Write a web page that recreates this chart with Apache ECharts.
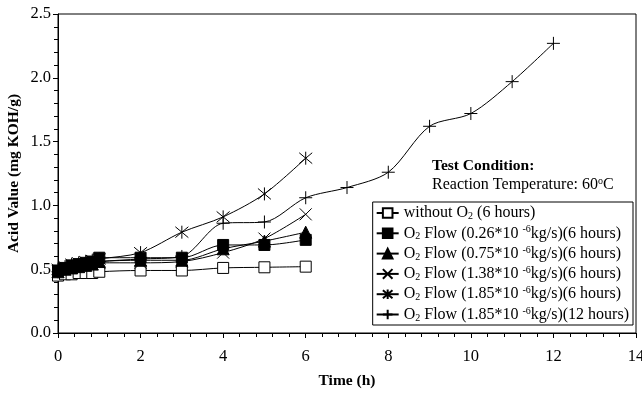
<!DOCTYPE html>
<html>
<head>
<meta charset="utf-8">
<script src="https://cdn.jsdelivr.net/npm/echarts@6/dist/echarts.min.js"></script>
<style>
  html, body { margin: 0; padding: 0; background: #fff; }
  #chart { width: 642px; height: 393px; }
</style>
</head>
<body>
<div id="chart"></div>
<script>
// Sampling times (h)
const timesShort = [0, 0.17, 0.33, 0.5, 0.67, 0.83, 1, 2, 3, 4, 5, 6];
const timesLong = [0, 0.17, 0.33, 0.5, 0.67, 0.83, 1, 2, 3, 4, 5, 6, 7, 8, 9, 10, 11, 12];

// Acid value (mg KOH/g) per run
const noOxygen6h = [0.45, 0.46, 0.46, 0.47, 0.47, 0.47, 0.48, 0.49, 0.49, 0.51, 0.515, 0.52];
const flow026_6h = [0.49, 0.51, 0.53, 0.54, 0.55, 0.56, 0.59, 0.59, 0.59, 0.69, 0.69, 0.73];
const flow075_6h = [0.48, 0.50, 0.51, 0.52, 0.53, 0.54, 0.56, 0.57, 0.57, 0.66, 0.72, 0.79];
const flow138_6h = [0.48, 0.50, 0.51, 0.52, 0.53, 0.54, 0.55, 0.55, 0.56, 0.63, 0.74, 0.93];
const flow185_6h = [0.50, 0.52, 0.54, 0.55, 0.56, 0.57, 0.58, 0.63, 0.79, 0.91, 1.09, 1.37];
const flow185_12h = [0.48, 0.50, 0.52, 0.53, 0.54, 0.55, 0.56, 0.58, 0.60, 0.86, 0.87, 1.06, 1.14, 1.26, 1.62, 1.72, 1.97, 2.27];

// Axis ticks
const xTicks = [0, 2, 4, 6, 8, 10, 12, 14];
const yTicks = [0.0, 0.5, 1.0, 1.5, 2.0, 2.5];

const seriesNames = [
  'without O{sub|2} (6 hours)',
  'O{sub|2} Flow (0.26*10 {sup|-6}kg/s)(6 hours)',
  'O{sub|2} Flow (0.75*10 {sup|-6}kg/s)(6 hours)',
  'O{sub|2} Flow (1.38*10 {sup|-6}kg/s)(6 hours)',
  'O{sub|2} Flow (1.85*10 {sup|-6}kg/s)(6 hours)',
  'O{sub|2} Flow (1.85*10 {sup|-6}kg/s)(12 hours)'
];

const FONT = '"Liberation Serif", "DejaVu Serif", serif';

const crossPath = 'path://M0,0L10,10M10,0L0,10';
const starPath = 'path://M0,0L10,10M10,0L0,10M5,-1L5,11';
const plusPath = 'path://M5,0L5,10M0,5L10,5';

function pairs(xs, ys) { return ys.map((v, i) => [xs[i], v]); }

function makeSeries(name, xs, ys, symbol, size, fill) {
  return {
    name: name,
    type: 'line',
    smooth: 0.3,
    data: pairs(xs, ys),
    symbol: symbol,
    symbolSize: size,
    showAllSymbol: true,
    lineStyle: { color: '#000', width: 1 },
    itemStyle: { color: fill, borderColor: '#000', borderWidth: 1 },
    emphasis: { disabled: true },
    z: 3
  };
}

const chart = echarts.init(document.getElementById('chart'), null, { renderer: 'canvas' });

const sub = { fontSize: 10, fontFamily: FONT, color: '#000', padding: [7, 0, 0, 0] };
const sup = { fontSize: 10, fontFamily: FONT, color: '#000', padding: [0, 0, 7, 0] };

chart.setOption({
  animation: false,
  backgroundColor: '#fff',
  grid: {
    left: 58, right: 6, top: 14, bottom: 60,
    outerBoundsMode: 'none', containLabel: false,
    show: true, borderColor: '#000', borderWidth: 1, backgroundColor: 'transparent'
  },
  xAxis: {
    type: 'value',
    min: xTicks[0], max: xTicks[xTicks.length - 1], interval: 2,
    name: 'Time (h)', nameLocation: 'middle', nameGap: 40,
    nameTextStyle: { fontFamily: FONT, fontSize: 15.5, fontWeight: 'bold', color: '#000' },
    axisLine: { lineStyle: { color: '#000', width: 1 } },
    axisTick: { show: true, inside: false, length: 5, lineStyle: { color: '#000' } },
    minorTick: { show: true, splitNumber: 5, length: 4, lineStyle: { color: '#000' } },
    axisLabel: { fontFamily: FONT, fontSize: 16.5, color: '#000', margin: 15 },
    splitLine: { show: false }
  },
  yAxis: {
    type: 'value',
    min: yTicks[0], max: yTicks[yTicks.length - 1], interval: 0.5,
    name: 'Acid Value (mg KOH/g)', nameLocation: 'middle', nameGap: 36,
    nameMoveOverlap: false,
    nameTextStyle: { fontFamily: FONT, fontSize: 15.5, fontWeight: 'bold', color: '#000' },
    axisLine: { lineStyle: { color: '#000', width: 1 } },
    axisTick: { show: true, inside: false, length: 5, lineStyle: { color: '#000' } },
    minorTick: { show: true, splitNumber: 5, length: 4, lineStyle: { color: '#000' } },
    axisLabel: { fontFamily: FONT, fontSize: 16.5, color: '#000', margin: 7, formatter: v => v.toFixed(1) },
    splitLine: { show: false }
  },
  legend: {
    orient: 'vertical',
    right: 9, top: 202,
    backgroundColor: '#fff',
    borderColor: '#000', borderWidth: 1,
    padding: [3, 4, 2, 3],
    itemGap: 3.3,
    itemWidth: 22, itemHeight: 12,
    textStyle: { fontFamily: FONT, fontSize: 16, color: '#000', rich: { sub: sub, sup: sup } },
    formatter: n => n,
    data: seriesNames
  },
  graphic: [
    {
      type: 'text', left: 432, top: 158,
      style: { text: 'Test Condition:', font: 'bold 15.5px "Liberation Serif", serif', fill: '#000' }
    },
    {
      type: 'text', left: 432, top: 176,
      style: {
        text: 'Reaction Temperature: 60{sup|o}C',
        font: '16px "Liberation Serif", serif', fill: '#000',
        rich: { sup: { fontSize: 10, fontFamily: FONT, padding: [0, 0, 7, 0] } }
      }
    }
  ],
  series: [
    makeSeries(seriesNames[0], timesShort, noOxygen6h, 'rect', 11, '#fff'),
    makeSeries(seriesNames[1], timesShort, flow026_6h, 'rect', 11, '#000'),
    makeSeries(seriesNames[2], timesShort, flow075_6h, 'triangle', 12, '#000'),
    makeSeries(seriesNames[3], timesShort, flow138_6h, crossPath, 12, 'none'),
    makeSeries(seriesNames[4], timesShort, flow185_6h, starPath, 13, 'none'),
    makeSeries(seriesNames[5], timesLong, flow185_12h, plusPath, 13, 'none')
  ]
});
</script>
</body>
</html>
